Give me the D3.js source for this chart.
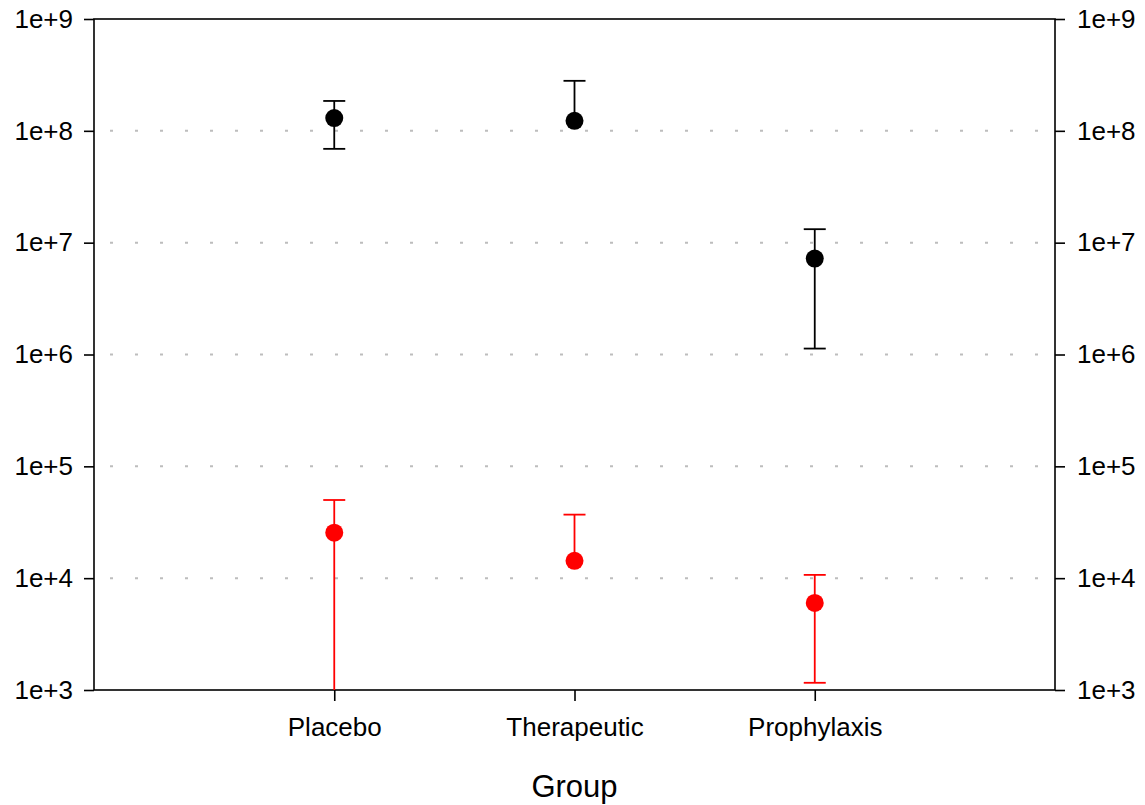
<!DOCTYPE html>
<html>
<head>
<meta charset="utf-8">
<script src="https://cdn.jsdelivr.net/npm/d3@7"></script>
<style>
  html, body { margin: 0; padding: 0; background: #fff; }
  svg { display: block; font-family: "Liberation Sans", Arial, sans-serif; }
</style>
</head>
<body>
<svg id="chart" width="1145" height="805"></svg>
<script>
// Groups along the x axis
const groups = ["Placebo", "Therapeutic", "Prophylaxis"];

// Black series: mean with lower / upper error limits (null = not drawn)
const blackMean  = [1.30e8, 1.23e8, 7.2e6];
const blackLower = [6.9e7, null, 1.13e6];
const blackUpper = [1.85e8, 2.8e8, 1.32e7];

// Red series: mean with lower / upper error limits
const redMean  = [2.55e4, 1.43e4, 6.0e3];
const redLower = [5.0e2, null, 1.16e3];
const redUpper = [5.0e4, 3.7e4, 1.07e4];

// Axis ticks
const yTicks = [1e3, 1e4, 1e5, 1e6, 1e7, 1e8, 1e9];
const gridTicks = [1e4, 1e5, 1e6, 1e7, 1e8];
const xTitle = "Group";

const margin = { left: 94, right: 90, top: 19, bottom: 115 };
const W = 1145, H = 805;
const svg = d3.select("#chart");

const x = d3.scalePoint().domain(groups).range([margin.left, W - margin.right]).padding(1);
const y = d3.scaleLog().domain([1e3, 1e9]).range([H - margin.bottom, margin.top]);

const x0 = margin.left, x1 = W - margin.right, y0 = H - margin.bottom, y1 = margin.top;

svg.append("defs").append("clipPath").attr("id", "plot-clip")
  .append("rect").attr("x", x0).attr("y", y1).attr("width", x1 - x0).attr("height", y0 - y1);

// Dotted horizontal gridlines
svg.append("g").selectAll("line").data(gridTicks).join("line")
  .attr("x1", x0).attr("x2", x1)
  .attr("y1", d => y(d)).attr("y2", d => y(d))
  .attr("stroke", "#bdbdbd").attr("stroke-width", 2)
  .attr("stroke-dasharray", "3 22").attr("stroke-dashoffset", 9);

const fmt = d => "1e+" + Math.round(Math.log10(d));

// Left and right axes
const gL = svg.append("g").attr("transform", `translate(${x0},0)`)
  .call(d3.axisLeft(y).tickValues(yTicks).tickFormat(fmt).tickSize(10).tickPadding(11));
const gR = svg.append("g").attr("transform", `translate(${x1},0)`)
  .call(d3.axisRight(y).tickValues(yTicks).tickFormat(fmt).tickSize(10).tickPadding(12));
// Bottom axis
const gB = svg.append("g").attr("transform", `translate(0,${y0})`)
  .call(d3.axisBottom(x).tickSize(11).tickPadding(17));

[gL, gR, gB].forEach(g => {
  g.select(".domain").remove();
  g.selectAll("line").attr("stroke", "#000").attr("stroke-width", 1.6);
  g.selectAll("text").attr("fill", "#000").attr("font-family", '"Liberation Sans", Arial, sans-serif');
});
gL.selectAll("text").attr("font-size", 26);
gR.selectAll("text").attr("font-size", 26);
gB.selectAll("text").attr("font-size", 26);

// Plot frame
svg.append("rect").attr("x", x0).attr("y", y1).attr("width", x1 - x0).attr("height", y0 - y1)
  .attr("fill", "none").attr("stroke", "#000").attr("stroke-width", 1.6);

// X axis title
svg.append("text").attr("x", (x0 + x1) / 2).attr("y", 797)
  .attr("text-anchor", "middle").attr("font-size", 31).attr("fill", "#000").text(xTitle);

// Error bars and means
function drawSeries(mean, lower, upper, color) {
  const rows = groups.map((g, i) => ({ g, m: mean[i], lo: lower[i], hi: upper[i] }));
  const layer = svg.append("g").attr("clip-path", "url(#plot-clip)");
  const capW = 11;
  rows.forEach(r => {
    const cx = x(r.g);
    const top = r.hi != null ? y(r.hi) : y(r.m);
    const bot = r.lo != null ? y(r.lo) : y(r.m);
    layer.append("line").attr("x1", cx).attr("x2", cx).attr("y1", top).attr("y2", bot)
      .attr("stroke", color).attr("stroke-width", 1.8);
    if (r.hi != null) {
      layer.append("line").attr("x1", cx - capW).attr("x2", cx + capW)
        .attr("y1", y(r.hi)).attr("y2", y(r.hi)).attr("stroke", color).attr("stroke-width", 1.8);
    }
    if (r.lo != null && r.lo >= 1e3) {
      layer.append("line").attr("x1", cx - capW).attr("x2", cx + capW)
        .attr("y1", y(r.lo)).attr("y2", y(r.lo)).attr("stroke", color).attr("stroke-width", 1.8);
    }
  });
  layer.selectAll("circle").data(rows).join("circle")
    .attr("cx", d => x(d.g)).attr("cy", d => y(d.m)).attr("r", 9).attr("fill", color);
}
drawSeries(blackMean, blackLower, blackUpper, "#000");
drawSeries(redMean, redLower, redUpper, "#ff0000");
</script>
</body>
</html>
